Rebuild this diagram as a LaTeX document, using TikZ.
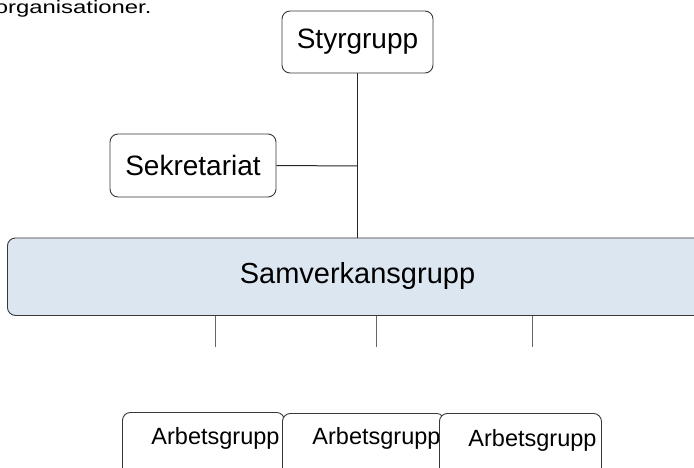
\documentclass[tikz,border=0pt]{standalone}
\usepackage{fontspec}
\usepackage{graphicx}
\setmainfont{Liberation Sans}
\begin{document}
\begin{tikzpicture}[x=1pt,y=-1pt,
  box/.style={draw=black!78, line width=0.9pt, rounded corners=8pt, fill=white, inner sep=0pt},
  conn/.style={draw=black!85, line width=1pt},
  thin/.style={draw=black!60, line width=0.8pt},
  big/.style={font=\fontsize{28}{32}\selectfont},
  mid/.style={font=\fontsize{23.5}{26}\selectfont}]
\useasboundingbox (0,0) rectangle (694,468);
\clip (0,0) rectangle (694,468);
\node[anchor=base west, font=\fontsize{18}{21}\selectfont, inner sep=0pt] (intro) at (-5.4,13.3) {\scalebox{1.327}[1]{organisationer.}};
% Styrgrupp
\node[box, minimum width=151pt, minimum height=62pt] (sty) at (357.5,42) {};
\node[big, inner sep=0pt] (styt) at (357.5,42) {Styrgrupp};
% Sekretariat
\node[box, minimum width=166pt, minimum height=63pt] (sek) at (193,165.5) {};
\node[big, inner sep=0pt] (sekt) at (193,165.5) {Sekretariat};
% Samverkansgrupp
\node[box, fill={rgb,255:red,220;green,230;blue,241}, minimum width=703pt, minimum height=77.5pt, anchor=north west] (sam) at (7,237.5) {};
\node[font=\fontsize{29}{33}\selectfont, inner sep=0pt] (samt) at (357.5,276) {Samverkansgrupp};
% connectors
\coordinate (jx) at (357,166);
\draw[conn] (sty.south -| jx) -- (sam.north -| jx);
\draw[conn] (sek.east) -- (jx);
\coordinate (d1) at (215,347);
\coordinate (d2) at (376,347);
\coordinate (d3) at (532,347);
\draw[thin] (sam.south -| d1) -- (d1);
\draw[thin] (sam.south -| d2) -- (d2);
\draw[thin] (sam.south -| d3) -- (d3);
% Arbetsgrupp
\node[box, minimum width=162pt, minimum height=70pt, anchor=north west] (a1) at (122,412) {};
\node[mid, inner sep=0pt] (a1t) at (215.5,438) {Arbetsgrupp};
\node[box, minimum width=162pt, minimum height=70pt, anchor=north west] (a2) at (282,413) {};
\node[mid, inner sep=0pt] (a2t) at (376.5,438) {Arbetsgrupp};
\node[box, minimum width=162pt, minimum height=70pt, anchor=north west] (a3) at (439,413) {};
\node[mid, inner sep=0pt] (a3t) at (532.5,440) {Arbetsgrupp};
\end{tikzpicture}
\end{document}
